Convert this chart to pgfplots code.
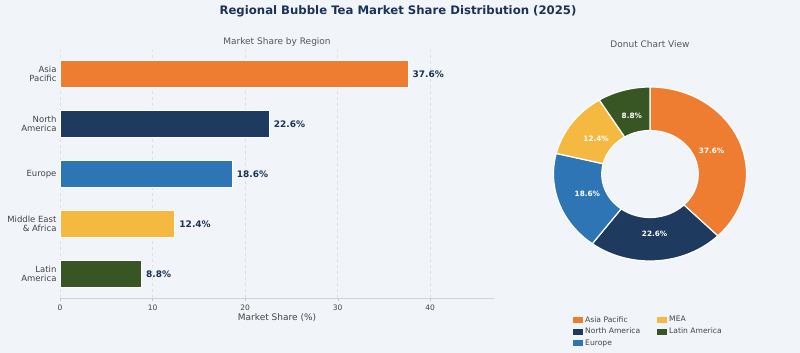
\documentclass[border=0pt]{standalone}
\usepackage{fontspec}
\setmainfont{DejaVu Sans}
\usepackage{pgfplots}
\pgfplotsset{compat=1.18}
\definecolor{bgc}{HTML}{F1F4F9}
\definecolor{cAP}{HTML}{EE7D31}
\definecolor{cNA}{HTML}{1E3A5F}
\definecolor{cEU}{HTML}{2E75B6}
\definecolor{cME}{HTML}{F5B942}
\definecolor{cLA}{HTML}{375623}
\definecolor{ttl}{HTML}{1B3358}
\definecolor{txt}{HTML}{444444}
% donut angles from the shares (clockwise from 90 deg)
\def\vAP{37.6}\def\vNA{22.6}\def\vEU{18.6}\def\vME{12.4}\def\vLA{8.8}
\pgfmathsetmacro{\aA}{90}
\pgfmathsetmacro{\aB}{\aA-3.6*\vAP}
\pgfmathsetmacro{\aC}{\aB-3.6*\vNA}
\pgfmathsetmacro{\aD}{\aC-3.6*\vEU}
\pgfmathsetmacro{\aE}{\aD-3.6*\vME}
\pgfmathsetmacro{\aF}{\aE-3.6*\vLA}
\newcommand{\ring}[3]{% start, end, colour
  \filldraw[fill=#3, draw=white, line width=1.2pt]
    (axis cs:{cos(#1)},{sin(#1)}) arc[start angle=#1, end angle=#2, x radius=96.5pt, y radius=87pt]
    -- (axis cs:{0.5*cos(#2)},{0.5*sin(#2)}) arc[start angle=#2, end angle=#1, x radius=48.25pt, y radius=43.5pt] -- cycle;}
\newcommand{\rlab}[3]{% start, end, text
  \node[text=white, font=\fontsize{7.3}{8}\selectfont\bfseries] at (axis cs:{0.69*cos((#1+#2)/2)},{0.69*sin((#1+#2)/2)}) {#3};}
\begin{document}
\begin{tikzpicture}
\fill[bgc] (0pt,0pt) rectangle (800pt,353pt);
\path[use as bounding box] (0pt,0pt) rectangle (800pt,353pt);
\node[text=ttl, font=\fontsize{11.7}{13}\selectfont\bfseries] at (398pt,342pt) {Regional Bubble Tea Market Share Distribution (2025)};
\node[text=txt!90, font=\fontsize{9}{10}\selectfont] at (277pt,311pt) {Market Share by Region};
\node[text=txt!90, font=\fontsize{9}{10}\selectfont] at (650pt,309pt) {Donut Chart View};
\begin{axis}[
  at={(60pt,55pt)}, anchor=south west,
  width=434pt, height=248pt, scale only axis,
  xmin=0, xmax=46.9, ymin=-0.48, ymax=4.48,
  xtick={0,10,20,30,40}, ytick={0,1,2,3,4},
  yticklabels={{Latin\\America},{Middle East\\\& Africa},{Europe},{North\\America},{Asia\\Pacific}},
  yticklabel style={align=right, font=\fontsize{8.5}{9.2}\selectfont, text=txt, xshift=3pt},
  xticklabel style={font=\fontsize{7.5}{8}\selectfont, text=txt},
  /pgf/number format/assume math mode=true,
  axis x line*=bottom, axis y line*=left,
  y axis line style={draw=none}, ytick style={draw=none},
  x axis line style={draw=gray!35, line width=0.8pt},
  xtick style={draw=gray!45}, tick align=outside, major tick length=3pt,
  xmajorgrids, grid style={dashed, gray!25, line width=0.5pt},
  xlabel={Market Share (\%)},
  xlabel style={font=\fontsize{9}{10}\selectfont, text=txt, yshift=3pt},
  xbar, bar shift=0pt, bar width=27pt,
  point meta=explicit symbolic,
  nodes near coords,
  every node near coord/.append style={anchor=west, font=\fontsize{9}{10}\selectfont\bfseries, text=ttl, xshift=1pt},
  clip=false,
]
\addplot[fill=cAP, draw=white, line width=0.8pt] coordinates {(37.6,4) [37.6\%]};
\addplot[fill=cNA, draw=white, line width=0.8pt] coordinates {(22.6,3) [22.6\%]};
\addplot[fill=cEU, draw=white, line width=0.8pt] coordinates {(18.6,2) [18.6\%]};
\addplot[fill=cME, draw=white, line width=0.8pt] coordinates {(12.4,1) [12.4\%]};
\addplot[fill=cLA, draw=white, line width=0.8pt] coordinates {(8.8,0) [8.8\%]};
\end{axis}
\begin{axis}[
  at={(553.5pt,92pt)}, anchor=south west,
  width=193pt, height=174pt, scale only axis,
  xmin=-1, xmax=1, ymin=-1, ymax=1,
  hide axis, clip=false,
  legend columns=2,
  legend cell align=left,
  legend image code/.code={\fill[#1, draw=none] (0pt,-3pt) rectangle (10pt,3pt);},
  legend style={draw=none, fill=none, inner sep=0pt,
    at={(0.101,-0.305)}, anchor=north west,
    font=\fontsize{7.6}{8.5}\selectfont, text=txt,
    row sep=0.5pt,
    /tikz/every even column/.append style={column sep=15pt}},
]
\ring{\aA}{\aB}{cAP}
\ring{\aB}{\aC}{cNA}
\ring{\aC}{\aD}{cEU}
\ring{\aD}{\aE}{cME}
\ring{\aE}{\aF}{cLA}
\rlab{\aA}{\aB}{37.6\%}
\rlab{\aB}{\aC}{22.6\%}
\rlab{\aC}{\aD}{18.6\%}
\rlab{\aD}{\aE}{12.4\%}
\rlab{\aE}{\aF}{8.8\%}
\addlegendimage{fill=cAP}\addlegendentry{Asia Pacific}
\addlegendimage{fill=cME}\addlegendentry{MEA}
\addlegendimage{fill=cNA}\addlegendentry{North America}
\addlegendimage{fill=cLA}\addlegendentry{Latin America}
\addlegendimage{fill=cEU}\addlegendentry{Europe}
\end{axis}
\end{tikzpicture}
\end{document}
